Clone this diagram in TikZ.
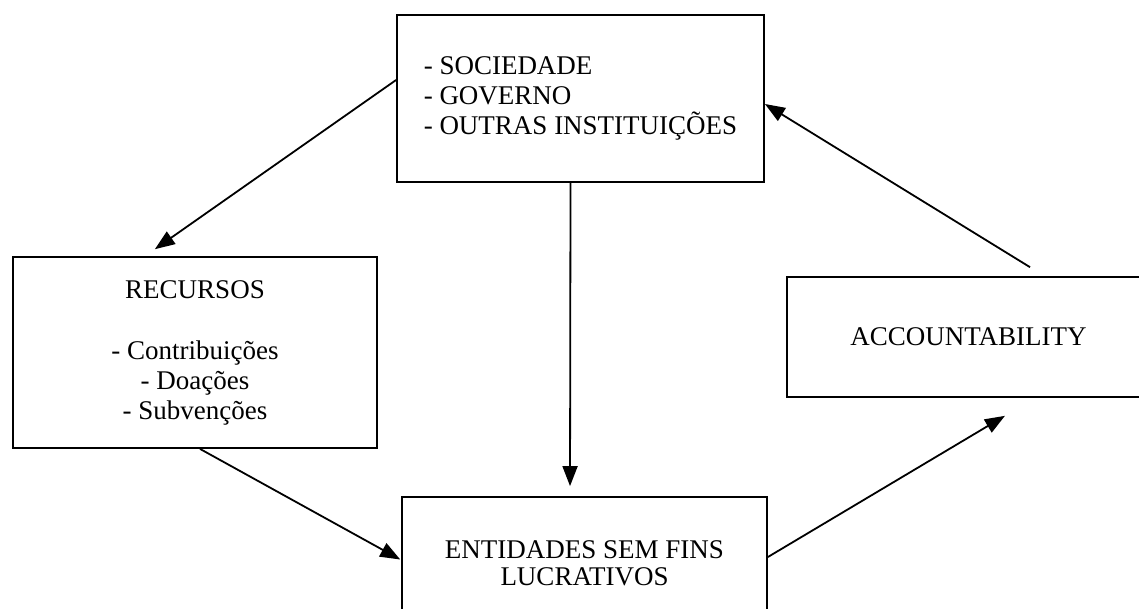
\documentclass[tikz,border=0pt]{standalone}
\usepackage{fontspec}
\setmainfont{Liberation Serif}
\usetikzlibrary{arrows.meta}

\begin{document}
\begin{tikzpicture}
    \tikzset{x=1pt, y=-1pt}
    \tikzstyle{block}=[rectangle, draw, line width=1.8pt, align=center, inner sep=0pt, font=\fontsize{27}{30}\selectfont]
    \tikzstyle{link}=[line width=1.8pt, -{Triangle[length=20pt, width=15pt]}]

    \clip (0, 0) rectangle (1139, 609);

    \draw (580.5,  98.5) node[block, align=left, minimum width=367pt, minimum height=167pt] (fontes)   {- SOCIEDADE\\- GOVERNO\\- OUTRAS INSTITUIÇÕES};
    \draw (195.0, 352.5) node[block, minimum width=364pt, minimum height=191pt]             (recursos) {RECURSOS\\[31pt]- Contribuições\\- Doações\\- Subvenções};
    \draw (968.5, 337.0) node[block, minimum width=363pt, minimum height=120pt]             (accnt)    {ACCOUNTABILITY};
    \draw (584.5, 563.0) node[block, minimum width=365pt, minimum height=132pt]             (entid)    {ENTIDADES SEM FINS\\[-3pt]LUCRATIVOS};

    \draw [link, shorten >=12pt] ([yshift=18.5pt]fontes.west)  -- ([xshift=-50pt]recursos.north);
    \draw [link, shorten >=10pt] ([xshift=-10pt]fontes.south)  -- ([xshift=-14.5pt]entid.north);
    \draw [link, shorten >=1pt]  ([xshift=5pt]recursos.south)  -- ([yshift=3pt]entid.west);
    \draw [link, shorten >=35pt] ([yshift=6pt]entid.east)      -- ([xshift=66.5pt]accnt.south);
    \draw [link, shorten <=17pt] ([xshift=76pt]accnt.north)    -- ([yshift=-5.5pt]fontes.east);
\end{tikzpicture}
\end{document}
